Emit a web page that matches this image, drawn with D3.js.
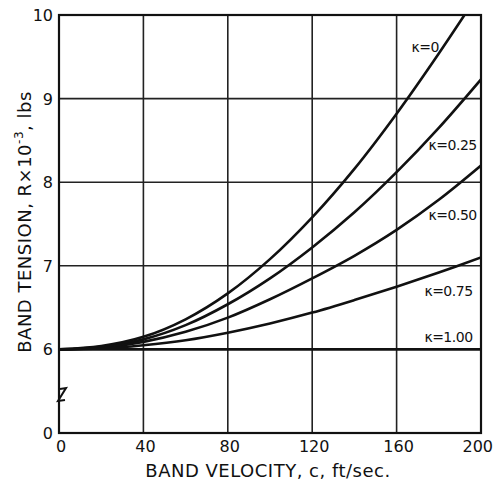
<!DOCTYPE html>
<html>
<head>
<meta charset="utf-8">
<script src="https://cdn.jsdelivr.net/npm/d3@7"></script>
<style>
  body { margin: 0; background: #fff; }
  svg { display: block; }
  text { font-family: "DejaVu Sans", sans-serif; fill: #111; }
</style>
</head>
<body>
<svg width="494" height="484"></svg>
<script>
// band velocity, ft/sec
var velocity = [0, 20, 40, 60, 80, 100, 120, 140, 160, 180, 200];
// band tension R x 10^-3 lbs, one series per kappa
var kappas = [0, 0.25, 0.50, 0.75, 1.00];
var tensionK0   = [6.0, 6.04, 6.15, 6.36, 6.67, 7.08, 7.58, 8.16, 8.82, 9.54, 10.30];
var tensionK025 = [6.0, 6.03, 6.12, 6.29, 6.54, 6.85, 7.22, 7.64, 8.12, 8.65, 9.23];
var tensionK050 = [6.0, 6.02, 6.09, 6.21, 6.38, 6.60, 6.85, 7.12, 7.43, 7.79, 8.20];
var tensionK075 = [6.0, 6.01, 6.05, 6.11, 6.20, 6.31, 6.44, 6.59, 6.75, 6.92, 7.10];
var tensionK100 = [6.0, 6.0, 6.0, 6.0, 6.0, 6.0, 6.0, 6.0, 6.0, 6.0, 6.0];
var series = [tensionK0, tensionK025, tensionK050, tensionK075, tensionK100];
var labels = ["\u03BA=0", "\u03BA=0.25", "\u03BA=0.50", "\u03BA=0.75", "\u03BA=1.00"];

var xTicks = [0, 40, 80, 120, 160, 200];
// broken axis: 5 stands for the "0" below the break
var yTicks = [5, 6, 7, 8, 9, 10];

var svg = d3.select("svg");
// (window.top is read only, so no plain "top" here)
var pLeft = 59, pRight = 481, pTop = 15, pBottom = 433;

var x = d3.scaleLinear().domain([0, 200]).range([pLeft, pRight]);
var y = d3.scaleLinear().domain([5, 10]).range([pBottom, pTop]);

// grid
var grid = svg.append("g").attr("stroke", "#222").attr("stroke-width", 1.6);
grid.selectAll("line.v")
    .data(xTicks.slice(1, -1))
    .enter().append("line")
    .attr("x1", d => x(d)).attr("x2", d => x(d))
    .attr("y1", pTop).attr("y2", pBottom);
grid.selectAll("line.h")
    .data(yTicks.slice(2, -1))
    .enter().append("line")
    .attr("x1", pLeft).attr("x2", pRight)
    .attr("y1", d => y(d)).attr("y2", d => y(d));

// frame
svg.append("rect")
    .attr("x", pLeft).attr("y", pTop)
    .attr("width", pRight - pLeft).attr("height", pBottom - pTop)
    .attr("fill", "none").attr("stroke", "#111").attr("stroke-width", 2.2);

// axis break mark
svg.append("path")
    .attr("d", "M60,389 L66,388 L58,401 L65,400")
    .attr("fill", "none").attr("stroke", "#111").attr("stroke-width", 2);

// curves
svg.append("clipPath").attr("id", "plot")
    .append("rect").attr("x", pLeft).attr("y", pTop)
    .attr("width", pRight - pLeft).attr("height", pBottom - pTop);

var line = d3.line()
    .x((d, i) => x(velocity[i]))
    .y(d => y(d))
    .curve(d3.curveCatmullRom);

svg.append("g").attr("clip-path", "url(#plot)")
    .selectAll("path")
    .data(series)
    .enter().append("path")
    .attr("d", line)
    .attr("fill", "none")
    .attr("stroke", "#111")
    .attr("stroke-width", 2.6);

// kappa labels, anchored in data units (c, R)
var labelAt = [[180, 9.56], [198, 8.39], [198, 7.55], [196, 6.64], [196, 6.09]];
svg.append("g")
    .selectAll("text")
    .data(labels)
    .enter().append("text")
    .attr("x", (d, i) => x(labelAt[i][0]))
    .attr("y", (d, i) => y(labelAt[i][1]))
    .attr("text-anchor", "end")
    .attr("font-size", 14)
    .attr("letter-spacing", -0.5)
    .text(d => d);

// tick labels (the last one sits flush with the right edge, as in the print)
svg.append("g")
    .selectAll("text")
    .data(xTicks)
    .enter().append("text")
    .attr("x", (d, i) => i === xTicks.length - 1 ? 493 : x(d) + 2)
    .attr("y", pBottom + 19)
    .attr("text-anchor", (d, i) => i === xTicks.length - 1 ? "end" : "middle")
    .attr("font-size", 16)
    .text(d => d);

svg.append("g")
    .selectAll("text")
    .data(yTicks)
    .enter().append("text")
    .attr("x", pLeft - 6)
    .attr("y", d => y(d) + 6)
    .attr("text-anchor", "end")
    .attr("font-size", 16)
    .text(d => d === 5 ? "0" : d);

// axis titles
svg.append("text")
    .attr("x", 268).attr("y", 477)
    .attr("text-anchor", "middle")
    .attr("font-size", 18)
    .attr("letter-spacing", 0.5)
    .text("BAND VELOCITY, c, ft/sec.");

var yt = svg.append("text")
    .attr("transform", "translate(31,222) rotate(-90)")
    .attr("text-anchor", "middle")
    .attr("font-size", 18)
    .attr("letter-spacing", 0.5);
yt.append("tspan").text("BAND TENSION, R\u00D710");
yt.append("tspan").attr("font-size", 12).attr("dy", -8).text("-3");
yt.append("tspan").attr("dy", 8).text(", lbs");
</script>
</body>
</html>
